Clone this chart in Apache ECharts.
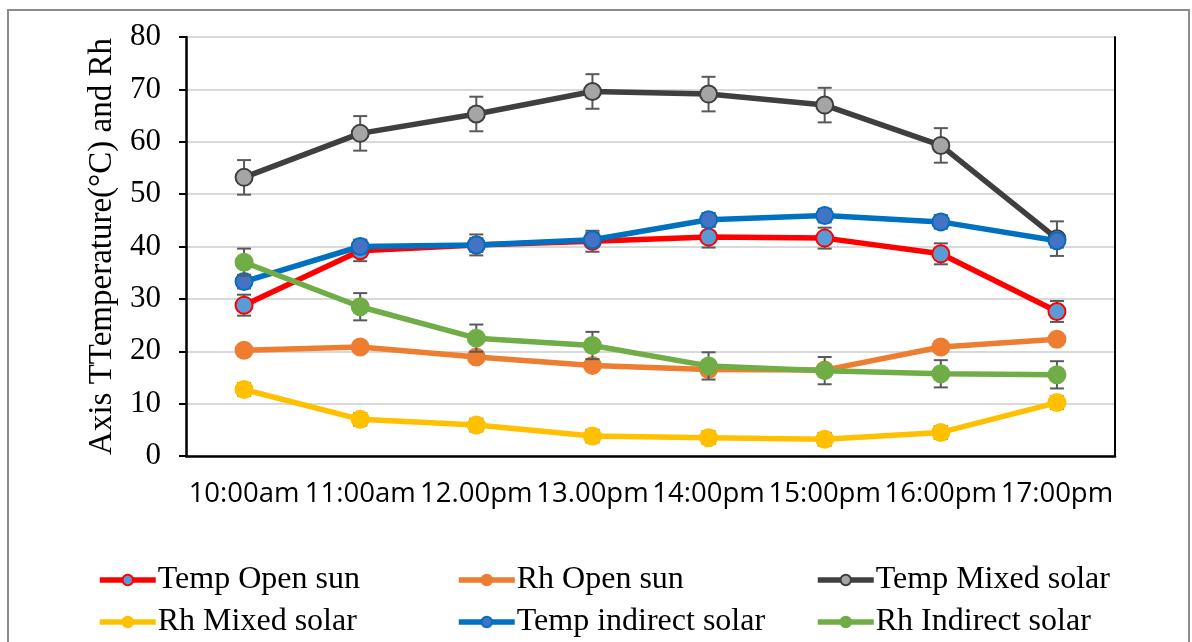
<!DOCTYPE html>
<html>
<head>
<meta charset="utf-8">
<script src="https://cdn.jsdelivr.net/npm/echarts@6/dist/echarts.min.js"></script>
<style>
  html, body { margin: 0; padding: 0; background: #fff; }
  #chart { width: 1192px; height: 642px; }
</style>
</head>
<body>
<div id="chart"></div>
<script>
// Time of day along the x axis
const categories = ['10:00am', '11:00am', '12.00pm', '13.00pm', '14:00pm', '15:00pm', '16:00pm', '17:00pm'];

// Temperature (°C) and relative humidity (%) readings
const tempOpenSun     = [28.8, 39.2, 40.3, 41.0, 41.8, 41.6, 38.6, 27.6];
const rhOpenSun       = [20.2, 20.8, 18.9, 17.3, 16.5, 16.4, 20.8, 22.3];
const tempMixedSolar  = [53.2, 61.6, 65.3, 69.6, 69.1, 67.0, 59.3, 41.5];
const rhMixedSolar    = [12.7, 7.0, 5.9, 3.8, 3.5, 3.2, 4.5, 10.2];
const tempIndirect    = [33.3, 40.0, 40.3, 41.3, 45.1, 45.9, 44.7, 41.1];
const rhIndirect      = [37.0, 28.5, 22.5, 21.1, 17.2, 16.3, 15.7, 15.5];

// Standard deviation shown as error bars
const errTempOpenSun    = [2.0, 2.0, 2.0, 2.0, 2.0, 2.0, 2.0, 2.0];
const errRhOpenSun      = [0.8, 0.8, 0.8, 0.8, 0.8, 0.8, 0.8, 0.8];
const errTempMixedSolar = [3.3, 3.3, 3.3, 3.3, 3.3, 3.3, 3.3, 3.3];
const errRhMixedSolar   = [1.2, 1.2, 1.2, 1.2, 1.2, 1.2, 1.2, 1.2];
const errTempIndirect   = [1.3, 1.3, 1.3, 1.3, 1.3, 1.3, 1.3, 1.3];
const errRhIndirect     = [2.6, 2.6, 2.6, 2.6, 2.6, 2.6, 2.6, 2.6];

const yTicks = { min: 0, max: 80, interval: 10 };

const serif = '"Liberation Serif", "Times New Roman", serif';

const seriesDefs = [
  { name: 'Temp Open sun',      data: tempOpenSun,    err: errTempOpenSun,    line: '#FF0000', fill: '#5B9BD5', border: '#FF0000' },
  { name: 'Rh Open sun',        data: rhOpenSun,      err: errRhOpenSun,      line: '#ED7D31', fill: '#ED7D31', border: '#ED7D31' },
  { name: 'Temp Mixed solar',   data: tempMixedSolar, err: errTempMixedSolar, line: '#3F3F3F', fill: '#A5A5A5', border: '#3F3F3F' },
  { name: 'Rh Mixed solar',     data: rhMixedSolar,   err: errRhMixedSolar,   line: '#FFC000', fill: '#FFC000', border: '#FFC000' },
  { name: 'Temp indirect solar',data: tempIndirect,   err: errTempIndirect,   line: '#0070C0', fill: '#4472C4', border: '#0070C0' },
  { name: 'Rh Indirect solar',  data: rhIndirect,     err: errRhIndirect,     line: '#70AD47', fill: '#70AD47', border: '#70AD47' }
];

function errorBarSeries(def, zIndex) {
  return {
    type: 'custom',
    name: def.name + ' error',
    z: zIndex,
    silent: true,
    data: def.data.map((v, i) => [i, v - def.err[i], v + def.err[i]]),
    renderItem: function (params, api) {
      const lo = api.coord([api.value(0), api.value(1)]);
      const hi = api.coord([api.value(0), api.value(2)]);
      const cap = 7;
      const style = { stroke: '#595959', lineWidth: 2 };
      return {
        type: 'group',
        children: [
          { type: 'line', shape: { x1: lo[0], y1: lo[1], x2: hi[0], y2: hi[1] }, style },
          { type: 'line', shape: { x1: lo[0] - cap, y1: lo[1], x2: lo[0] + cap, y2: lo[1] }, style },
          { type: 'line', shape: { x1: hi[0] - cap, y1: hi[1], x2: hi[0] + cap, y2: hi[1] }, style }
        ]
      };
    }
  };
}

const series = [];
seriesDefs.forEach((def, k) => {
  series.push(errorBarSeries(def, 2 + k * 2));
  series.push({
    type: 'line',
    name: def.name,
    data: def.data,
    z: 3 + k * 2,
    symbol: 'circle',
    symbolSize: 17,
    lineStyle: { color: def.line, width: 5.5 },
    itemStyle: { color: def.fill, borderColor: def.border, borderWidth: 2 },
    emphasis: { disabled: true },
    animation: false
  });
});

const legendText = { fontFamily: serif, fontSize: 32, color: '#000', lineHeight: 31, padding: [0, 0, 0, -3] };
function legendColumn(names, left) {
  return {
    orient: 'vertical',
    left: left,
    top: 564,
    padding: 0,
    itemWidth: 56,
    itemHeight: 13,
    itemGap: 10,
    lineStyle: { width: 5.5 },
    textStyle: legendText,
    data: names
  };
}

const chart = echarts.init(document.getElementById('chart'), null, { renderer: 'canvas' });
chart.setOption({
  animation: false,
  backgroundColor: '#fff',
  grid: { left: 186, right: 77, top: 37, bottom: 186, containLabel: false },
  legend: [
    legendColumn(['Temp Open sun', 'Rh Mixed solar'], 97),
    legendColumn(['Rh Open sun', 'Temp indirect solar'], 456),
    legendColumn(['Temp Mixed solar', 'Rh Indirect solar'], 815)
  ],
  xAxis: {
    type: 'category',
    data: categories,
    boundaryGap: true,
    axisLine: { lineStyle: { color: '#000', width: 2.5 } },
    axisTick: { alignWithLabel: true, length: 7, lineStyle: { color: '#000', width: 2 } },
    axisLabel: {
      interval: 0,
      margin: 24,
      fontFamily: '"Open Sans", "Noto Sans", sans-serif',
      fontSize: 27.5,
      color: '#000'
    },
    splitLine: { show: false }
  },
  yAxis: [
    {
      type: 'value',
      min: yTicks.min,
      max: yTicks.max,
      interval: yTicks.interval,
      name: 'Axis TTemperature(°C) and Rh',
      nameLocation: 'middle',
      nameRotate: 90,
      nameGap: 67,
      nameTextStyle: { fontFamily: serif, fontSize: 33, color: '#000' },
      axisLine: { show: true, lineStyle: { color: '#000', width: 2.5 } },
      axisTick: { show: true, length: 7, lineStyle: { color: '#000', width: 2 } },
      axisLabel: { fontFamily: serif, fontSize: 31, color: '#000', margin: 25 },
      splitLine: { show: true, lineStyle: { color: '#D9D9D9', width: 2 } }
    },
    {
      type: 'value',
      position: 'right',
      min: yTicks.min,
      max: yTicks.max,
      interval: yTicks.interval,
      axisLine: { show: true, lineStyle: { color: '#000', width: 2 } },
      axisTick: { show: false },
      axisLabel: { show: false },
      splitLine: { show: false }
    }
  ],
  series: series,
  graphic: [
    {
      type: 'rect',
      shape: { x: 8, y: 10, width: 1181, height: 700 },
      style: { fill: 'none', stroke: '#8C8C8C', lineWidth: 2 },
      silent: true,
      z: 100
    }
  ]
});
</script>
</body>
</html>
